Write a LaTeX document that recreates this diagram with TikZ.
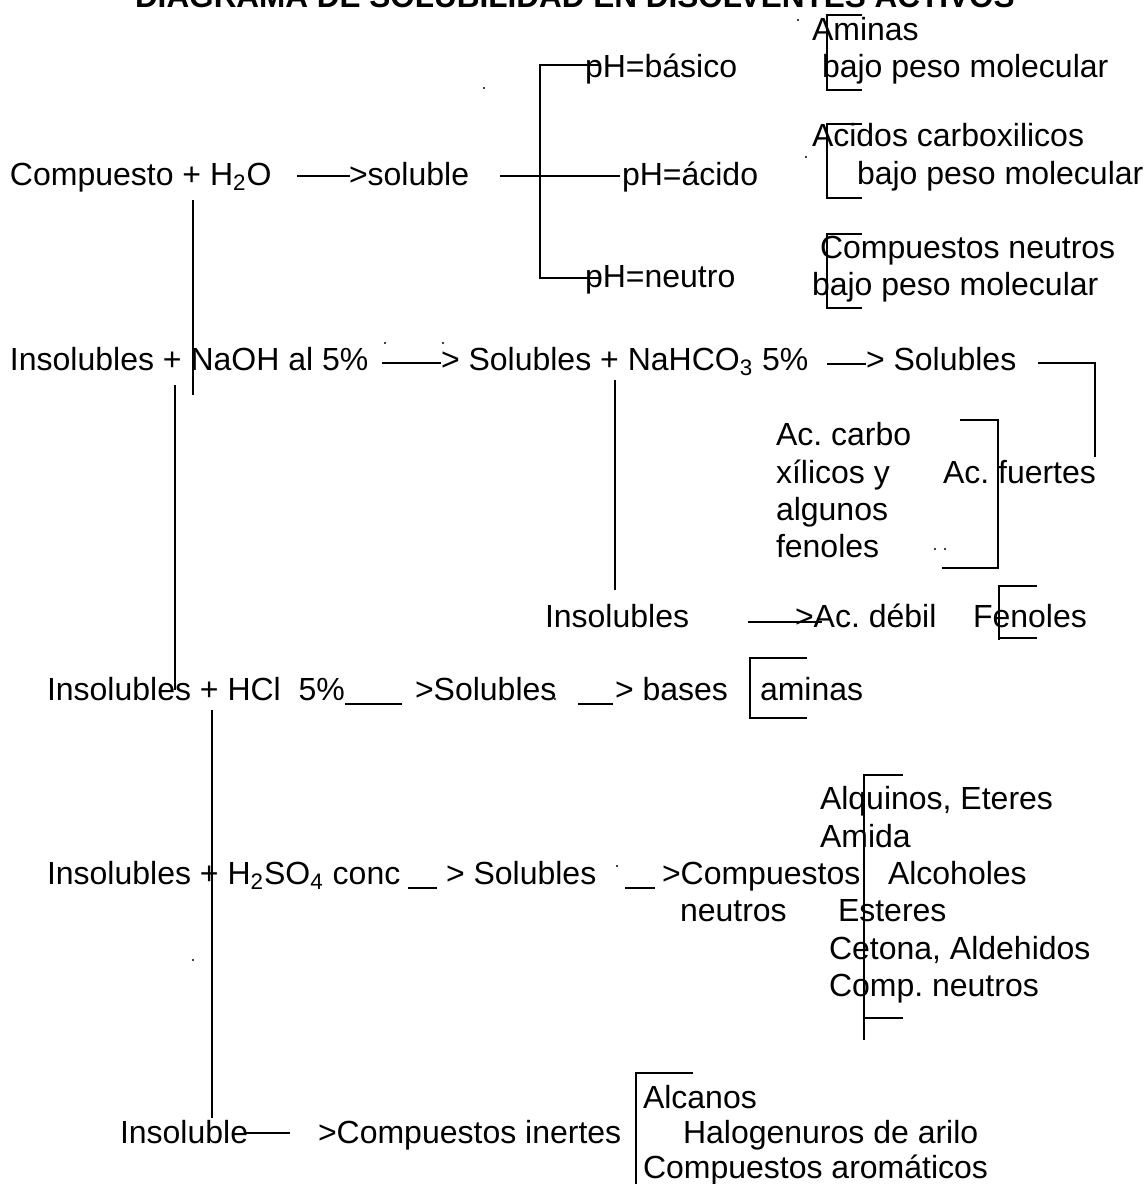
\documentclass[tikz,border=0pt]{standalone}
\usepackage{fontspec}
\setmainfont{Liberation Sans}
\frenchspacing
\newcommand\myfs{\fontsize{16}{19}\selectfont}
\newcommand\myttlfs{\fontsize{15.75}{19}\selectfont}
\tikzset{
  txt/.style={anchor=base west, inner sep=0pt, outer sep=0pt, font=\myfs},
  ttl/.style={anchor=base west, inner sep=0pt, outer sep=0pt, font=\myttlfs\bfseries},
  ln/.style={line width=1pt, black},
  speck/.style={fill=black, circle, inner sep=0pt, minimum size=1.2pt}
}
\begin{document}
\begin{tikzpicture}[x=0.5pt,y=-0.5pt]
\useasboundingbox (0,0) rectangle (1145,1184);
% title (cut off at top, as in the reference)
\node[ttl] (title) at (135,7) {DIAGRAMA DE SOLUBILIDAD EN DISOLVENTES ACTIVOS};
% texts
\node[txt] (aminas) at (812,40) {Aminas};
\node[txt] (phb) at (585,77) {pH=básico};
\node[txt] (bpmA) at (822,77) {bajo peso molecular};
\node[txt] (acidos) at (812,146) {Acidos carboxilicos};
\node[txt] (bpmB) at (857,184) {bajo peso molecular};
\node[txt] (comp) at (10,185) {Compuesto + H\textsubscript{2}O};
\node[txt] (sol) at (349,185) {>soluble};
\node[txt] (pha) at (622,185) {pH=ácido};
\node[txt] (cneu) at (820,258) {Compuestos neutros};
\node[txt] (phn) at (585,287) {pH=neutro};
\node[txt] (bpmC) at (812,295) {bajo peso molecular};
\node[txt] (naoh) at (10,370) {Insolubles + NaOH al 5\%};
\node[txt] (nahco) at (441,370) {> Solubles + NaHCO\textsubscript{3} 5\%};
\node[txt] (solB) at (866,370) {> Solubles};
\node[txt] (acA) at (776,445) {Ac. carbo};
\node[txt] (acB) at (776,483) {xílicos y};
\node[txt] (acC) at (776,520) {algunos};
\node[txt] (acD) at (776,557) {fenoles};
\node[txt] (acf) at (943,483) {Ac. fuertes};
\node[txt] (insB) at (545,627) {Insolubles};
\node[txt] (acd) at (795,627) {>Ac. débil};
\node[txt] (fen) at (973,627) {Fenoles};
\node[txt] (hcl) at (47,700) {Insolubles + HCl\ \ 5\%};
\node[txt] (solC) at (415,700) {>Solubles};
\node[txt] (bases) at (615,700) {> bases};
\node[txt] (amB) at (760,700) {aminas};
\node[txt] (h2so) at (47,884) {Insolubles + H\textsubscript{2}SO\textsubscript{4} conc};
\node[txt] (solD) at (446,884) {> Solubles};
\node[txt] (cmpn) at (662,884) {>Compuestos};
\node[txt] (neu) at (680,921) {neutros};
\node[txt] (alq) at (820,809) {Alquinos, Eteres};
\node[txt] (ami) at (820,847) {Amida};
\node[txt] (alco) at (888,884) {Alcoholes};
\node[txt] (est) at (838,921) {Esteres};
\node[txt] (ceto) at (829,959) {Cetona, Aldehidos};
\node[txt] (cmpneu) at (829,996) {Comp. neutros};
\node[txt] (insol) at (120,1143) {Insoluble};
\node[txt] (inert) at (318,1143) {>Compuestos inertes};
\node[txt] (alc) at (643,1108) {Alcanos};
\node[txt] (hal) at (683,1143) {Halogenuros de arilo};
\node[txt] (arom) at (643,1178) {Compuestos aromáticos};
% coordinates for line ends
\coordinate (bA1) at (862,15);  \coordinate (bA2) at (827,90);  \coordinate (bA3) at (862,90);
\coordinate (bB1) at (862,124); \coordinate (bB2) at (827,198); \coordinate (bB3) at (862,198);
\coordinate (bC1) at (862,234); \coordinate (bC2) at (827,308); \coordinate (bC3) at (862,308);
\coordinate (ph1) at (600,65);  \coordinate (phv1) at (540,65); \coordinate (phv2) at (540,278); \coordinate (ph3) at (600,278);
\coordinate (s1) at (297,176);  \coordinate (s2) at (350,176);
\coordinate (s3) at (500,176);  \coordinate (s4) at (620,176);
\coordinate (v1a) at (193,200); \coordinate (v1b) at (193,395);
\coordinate (n1) at (382,363);  \coordinate (n2) at (441,363);
\coordinate (n3) at (827,364);  \coordinate (n4) at (866,364);
\coordinate (f1) at (1038,363); \coordinate (f2) at (1095,457);
\coordinate (v2a) at (175,385); \coordinate (v2b) at (175,690);
\coordinate (v3a) at (615,380); \coordinate (v3b) at (615,590);
\coordinate (bF1) at (960,420); \coordinate (bF2) at (998,568); \coordinate (bF3) at (942,568);
\coordinate (d1) at (748,622);  \coordinate (d2) at (822,622);
\coordinate (bG1) at (1037,586);\coordinate (bG2) at (999,640); \coordinate (bG3) at (999,638); \coordinate (bG4) at (1037,638);
\coordinate (h1) at (345,704);  \coordinate (h2) at (402,704);
\coordinate (h3) at (578,704);  \coordinate (h4) at (613,704);
\coordinate (bH1) at (807,658); \coordinate (bH2) at (750,718); \coordinate (bH3) at (807,718);
\coordinate (v4a) at (212,710); \coordinate (v4b) at (212,1118);
\coordinate (u1) at (408,888);  \coordinate (u2) at (437,888);
\coordinate (u3) at (625,888);  \coordinate (u4) at (655,888);
\coordinate (bI1) at (903,775); \coordinate (bI2) at (864,1040); \coordinate (bI3) at (864,1018); \coordinate (bI4) at (903,1018);
\coordinate (i1) at (246,1133); \coordinate (i2) at (290,1133);
\coordinate (bJ1) at (693,1073);\coordinate (bJ2) at (636,1184);
% lines
\draw[ln] (bA1) -| (bA2) -- (bA3);
\draw[ln] (bB1) -| (bB2) -- (bB3);
\draw[ln] (bC1) -| (bC2) -- (bC3);
\draw[ln] (ph1) -- (phv1) -- (phv2) -- (ph3);
\draw[ln] (s1) -- (s2);
\draw[ln] (s3) -- (s4);
\draw[ln] (v1a) -- (v1b);
\draw[ln] (n1) -- (n2);
\draw[ln] (n3) -- (n4);
\draw[ln] (f1) -| (f2);
\draw[ln] (v2a) -- (v2b);
\draw[ln] (v3a) -- (v3b);
\draw[ln] (bF1) -| (bF2) -- (bF3);
\draw[ln] (d1) -- (d2);
\draw[ln] (bG1) -| (bG2);
\draw[ln] (bG3) -- (bG4);
\draw[ln] (h1) -- (h2);
\draw[ln] (h3) -- (h4);
\draw[ln] (bH1) -| (bH2) -- (bH3);
\draw[ln] (v4a) -- (v4b);
\draw[ln] (u1) -- (u2);
\draw[ln] (u3) -- (u4);
\draw[ln] (bI1) -| (bI2);
\draw[ln] (bI3) -- (bI4);
\draw[ln] (i1) -- (i2);
\draw[ln] (bJ1) -| (bJ2);
% stray specks
\node[speck] (k1) at (798,20) {};
\node[speck] (k2) at (484,88) {};
\node[speck] (k3) at (806,157) {};
\node[speck] (k4) at (385,343) {};
\node[speck] (k5) at (443,343) {};
\node[speck] (k6) at (935,549) {};
\node[speck] (k7) at (945,549) {};
\node[speck] (k8) at (555,699) {};
\node[speck] (k9) at (617,866) {};
\node[speck] (k10) at (193,960) {};
\end{tikzpicture}
\end{document}
